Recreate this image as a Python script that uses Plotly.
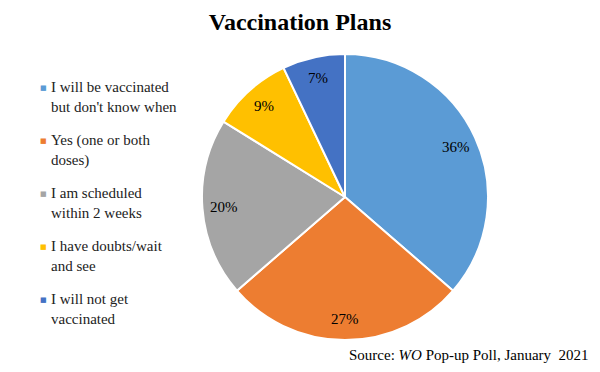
import math
import plotly.graph_objects as go

labels = ["I will be vaccinated<br>but don't know when", "Yes (one or both<br>doses)",
          "I am scheduled<br>within 2 weeks", "I have doubts/wait<br>and see", "I will not get<br>vaccinated"]
values = [36, 27, 20, 9, 7]
colors = ["#5B9BD5", "#ED7D31", "#A5A5A5", "#FFC000", "#4472C4"]

W, H = 600, 372
CX, CY, R = 345, 197, 143  # pie centre and radius in pixels

fig = go.Figure(go.Pie(
    labels=labels, values=values, sort=False, direction="clockwise", rotation=0,
    marker=dict(colors=colors, line=dict(color="white", width=2)),
    textinfo="none",
    domain=dict(x=[(CX - R) / W, (CX + R) / W], y=[1 - (CY + R) / H, 1 - (CY - R) / H]),
    showlegend=False, hoverinfo="label+percent",
))

ann = []
# slice value labels placed along each slice's mid angle
total = sum(values)
cum = 0
for v in values:
    mid = (cum + v / 2) / total * 2 * math.pi
    cum += v
    f = 0.85
    px = CX + R * f * math.sin(mid)
    py = CY - R * f * math.cos(mid)
    ann.append(dict(x=px / W, y=1 - py / H, text=f"{v}%", showarrow=False,
                    font=dict(size=15, color="black", family="Liberation Serif"),
                    xanchor="center", yanchor="middle"))

# custom legend
for i, (lab, c) in enumerate(zip(labels, colors)):
    y0 = 88 + 53 * i
    ann.append(dict(x=43 / W, y=1 - y0 / H, text="■", showarrow=False,
                    font=dict(size=7, color=c, family="DejaVu Sans"), xanchor="center", yanchor="middle"))
    ann.append(dict(x=49 / W, y=1 - (y0 - 11) / H, text=lab, showarrow=False, align="left",
                    font=dict(size=15, color="#222", family="Liberation Serif"), xanchor="left", yanchor="top"))

ann.append(dict(x=591 / W, y=1 - 355 / H, showarrow=False,
                text="Source: <i>WO</i> Pop-up Poll, January  2021", xanchor="right", yanchor="middle",
                font=dict(family="Liberation Serif", size=15, color="black")))
for a in ann:
    a["xref"] = "paper"
    a["yref"] = "paper"

fig.update_layout(
    width=W, height=H, margin=dict(l=0, r=0, t=0, b=0),
    paper_bgcolor="white", plot_bgcolor="white",
    title=dict(text="<b>Vaccination Plans</b>", x=0.5, xanchor="center", y=1 - 22 / H, yanchor="middle",
               font=dict(family="Liberation Serif", size=24, color="black")),
    annotations=ann,
)
fig.write_html("out.html", post_script="document.body.style.margin='0';",
               config={"displayModeBar": False})
